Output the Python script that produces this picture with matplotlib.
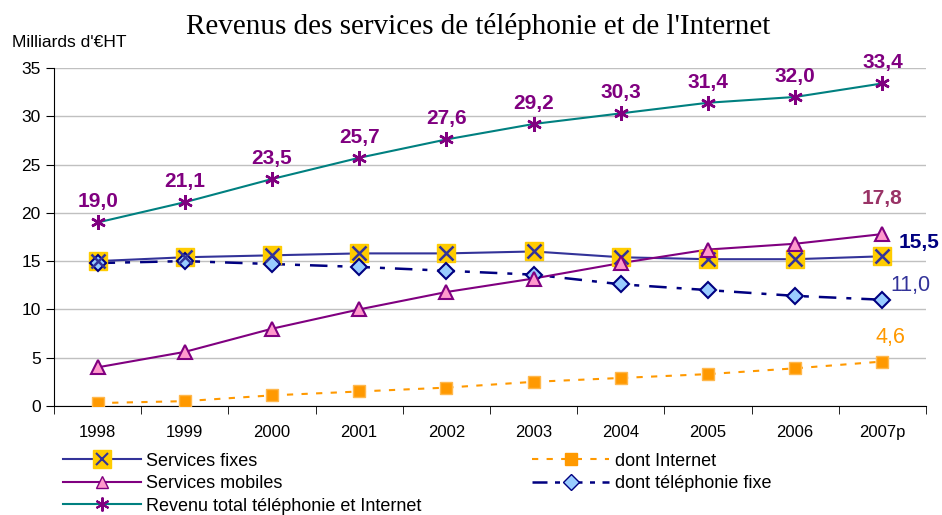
import matplotlib.pyplot as plt
from matplotlib.lines import Line2D
from matplotlib.legend_handler import HandlerTuple

years = ["1998", "1999", "2000", "2001", "2002", "2003", "2004", "2005", "2006", "2007p"]
fixes = [15.0, 15.4, 15.6, 15.8, 15.8, 16.0, 15.4, 15.2, 15.2, 15.5]
mobiles = [4.0, 5.6, 8.0, 10.0, 11.8, 13.2, 14.8, 16.2, 16.8, 17.8]
total = [19.0, 21.1, 23.5, 25.7, 27.6, 29.2, 30.3, 31.4, 32.0, 33.4]
internet = [0.3, 0.5, 1.1, 1.5, 1.9, 2.5, 2.9, 3.3, 3.9, 4.6]
tel_fixe = [14.8, 15.0, 14.7, 14.4, 14.0, 13.6, 12.6, 12.0, 11.4, 11.0]

plt.rcParams["font.family"] = ["Liberation Sans", "DejaVu Sans"]

fig = plt.figure(figsize=(9.42, 5.15), dpi=100)
ax = fig.add_axes([0.0573, 0.2117, 0.9257, 0.6563])
x = list(range(len(years)))

PURPLE = "#800080"
NAVY = "#000080"
FIX = "#333399"
ORANGE = "#FF9900"
TEAL = "#008080"

ax.plot(x, internet, color=ORANGE, ls=(0, (3, 4)), lw=1.5, zorder=3)
ax.plot(x, internet, ls="none", marker="s", ms=9, mfc=ORANGE, mec="#FFB84D", zorder=4)

ax.plot(x, tel_fixe, color=NAVY, ls=(0, (7, 4, 2, 4)), lw=1.8, zorder=3)
ax.plot(x, tel_fixe, ls="none", marker="D", ms=8, mfc="#99CCFF", mec=NAVY, mew=1.5, zorder=5)

ax.plot(x, fixes, color=FIX, lw=1.5, zorder=3)
ax.plot(x, fixes, ls="none", marker="s", ms=13.5, mfc="#FFCC00", mec="#FFCC00", zorder=4)
ax.plot(x, fixes, ls="none", marker="x", ms=10, mec=FIX, mew=1.8, zorder=6)

ax.plot(x, mobiles, color=PURPLE, lw=1.5, zorder=3)
ax.plot(x, mobiles, ls="none", marker="^", ms=9.5, mfc="#FF99CC", mec=PURPLE, mew=1.5, zorder=6)

ax.plot(x, total, color=TEAL, lw=1.5, zorder=3)
ax.plot(x, total, ls="none", marker=(6, 2, 0), ms=10.5, mec=PURPLE, mew=1.8, zorder=6)


def fmt(v):
    return f"{v:.1f}".replace(".", ",")


for xi, v in zip(x, total):
    ax.annotate(fmt(v), (xi, v), xytext=(0, 8), textcoords="offset points",
                ha="center", va="bottom", fontsize=15, fontweight="bold", color=PURPLE)

last = len(years) - 1
ax.annotate(fmt(mobiles[-1]), (last, mobiles[-1]), xytext=(0, 19),
            textcoords="offset points", ha="center", va="bottom", fontsize=15,
            fontweight="bold", color="#993366")
ax.annotate(fmt(fixes[-1]), (last, fixes[-1]), xytext=(12, 10),
            textcoords="offset points", ha="left", va="center", fontsize=15,
            fontweight="bold", color=NAVY)
ax.annotate(fmt(tel_fixe[-1]), (last, tel_fixe[-1]), xytext=(6, 10),
            textcoords="offset points", ha="left", va="center", fontsize=15.5, color=FIX)
ax.annotate(fmt(internet[-1]), (last, internet[-1]), xytext=(6, 10),
            textcoords="offset points", ha="center", va="bottom", fontsize=15.5, color=ORANGE)

ax.set_xlim(-0.5, len(years) - 0.5)
ax.set_ylim(0, 35)
ax.set_yticks(range(0, 36, 5))
ax.set_xticks(x)
ax.set_xticklabels(years)
ax.set_xticks([i - 0.5 for i in range(len(years) + 1)], minor=True)
ax.tick_params(axis="x", which="major", length=0, pad=14, labelsize=12)
ax.tick_params(axis="x", which="minor", length=6, direction="out")
ax.tick_params(axis="y", length=6, direction="out", labelsize=12.5)
ax.yaxis.grid(True, color="#C0C0C0", lw=1)
ax.set_axisbelow(True)
for s in ["top", "right"]:
    ax.spines[s].set_visible(False)

fig.text(0.508, 0.948, "Revenus des services de téléphonie et de l'Internet", ha="center", va="center",
         fontsize=21, family=["Liberation Serif", "DejaVu Serif"])
fig.text(0.013, 0.918, "Milliards d'€HT", ha="left", va="center", fontsize=12.5)

h_fix = (Line2D([], [], color=FIX, lw=1.5),
         Line2D([], [], ls="none", marker="s", ms=13, mfc="#FFCC00", mec="#FFCC00"),
         Line2D([], [], ls="none", marker="x", ms=9, mec=FIX, mew=1.5))
h_mob = Line2D([], [], color=PURPLE, lw=1.5, marker="^", ms=9, mfc="#FF99CC", mec=PURPLE)
h_tot = Line2D([], [], color=TEAL, lw=1.5, marker=(6, 2, 0), ms=10, mec=PURPLE, mew=1.5)
h_int = Line2D([], [], color=ORANGE, ls=(0, (3, 4)), lw=1.5, marker="s", ms=9, mfc=ORANGE, mec=ORANGE)
h_tel = Line2D([], [], color=NAVY, ls=(0, (6, 3, 2, 3)), lw=1.8, marker="D", ms=8,
               mfc="#99CCFF", mec=NAVY)
fig.legend([h_fix, h_mob, h_tot, h_int, h_tel],
           ["Services fixes", "Services mobiles", "Revenu total téléphonie et Internet",
            "dont Internet", "dont téléphonie fixe"],
           handler_map={tuple: HandlerTuple(ndivide=1)},
           loc="upper left", bbox_to_anchor=(0.067, 0.121), ncol=2, frameon=False,
           fontsize=13, columnspacing=6.1, handlelength=4.3, labelspacing=0.3,
           borderaxespad=0, borderpad=0, handletextpad=0.3)

fig.savefig("out.png", dpi=100)
